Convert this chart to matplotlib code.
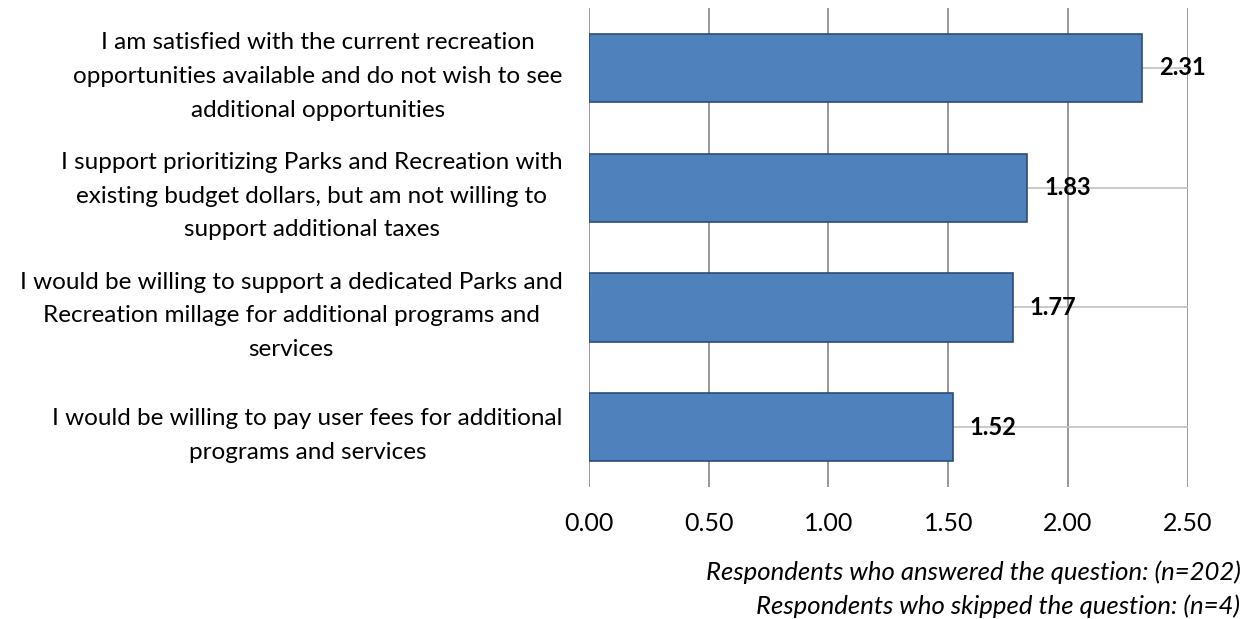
import matplotlib.pyplot as plt
import numpy as np

plt.rcParams['font.family'] = ['Lato', 'DejaVu Sans']

categories = [
    "I am satisfied with the current recreation\nopportunities available and do not wish to see\nadditional opportunities",
    "I support prioritizing Parks and Recreation with\nexisting budget dollars, but am not willing to\nsupport additional taxes",
    "I would be willing to support a dedicated Parks and\nRecreation millage for additional programs and\nservices",
    "I would be willing to pay user fees for additional\nprograms and services",
]
values = [2.31, 1.83, 1.77, 1.52]
xticks = [0.0, 0.5, 1.0, 1.5, 2.0, 2.5]
footnotes = [
    "Respondents who answered the question: (n=202)",
    "Respondents who skipped the question: (n=4)",
]

fig = plt.figure(figsize=(12.53, 6.19), dpi=100)
ax = fig.add_axes([0.470, 0.213, 0.478, 0.774])

y = np.arange(len(categories))
ax.barh(y, values, height=0.57, color='#4F81BD', edgecolor='#2C4D75',
        linewidth=1.2, zorder=3)

# value labels
for yi, v in zip(y, values):
    ax.text(v + 0.07, yi, f'{v:.2f}', va='center', ha='left',
            fontsize=17, fontweight='bold', color='black', zorder=4)

ax.set_xlim(0, 2.5)
ax.set_ylim(len(categories) - 0.5, -0.5)
ax.set_xticks(xticks)
ax.set_xticklabels([f'{t:.2f}' for t in xticks], fontsize=18)
ax.set_yticks(y)
ax.set_yticklabels(categories, fontsize=17.5, ha='right', multialignment='center')
for lbl in ax.get_yticklabels():
    lbl.set_linespacing(1.75)

ax.grid(axis='x', color='#868686', linewidth=1.2, zorder=0)
ax.grid(axis='y', color='#C0C0C0', linewidth=1.2, zorder=0)
for s in ax.spines.values():
    s.set_visible(False)
ax.tick_params(axis='both', length=0)
ax.tick_params(axis='x', pad=18)
ax.tick_params(axis='y', pad=19)

fig.text(0.990, 1 - 572 / 619, footnotes[0], ha='right', va='center',
         fontsize=18.5, style='italic')
fig.text(0.990, 1 - 606 / 619, footnotes[1], ha='right', va='center',
         fontsize=18.5, style='italic')

plt.savefig('out.png', dpi=100)
